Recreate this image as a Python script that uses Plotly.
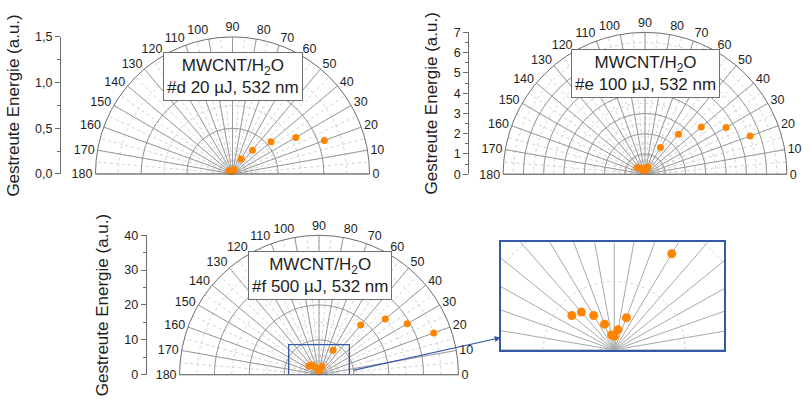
import numpy as np
import plotly.graph_objects as go

W, H = 812, 401

# ---------------- data ----------------
angles = [20, 30, 40, 50, 60, 70, 80, 90, 100, 110, 120, 130, 140]
r_d = [1.07, 0.80, 0.55, 0.34, 0.19, 0.05, 0.03, 0.03, 0.03, 0.03, 0.04, 0.04, 0.05]
r_e = [5.52, 4.62, 3.63, 2.57, 1.53, 0.40, 0.22, 0.15, 0.15, 0.20, 0.30, 0.42, 0.50]
r_f = [35.0, 29.2, 24.8, 18.6, 8.1, 2.5, 1.5, 1.0, 1.1, 2.0, 2.9, 3.6, 3.9]

theta_ticks = list(range(0, 181, 10))
theta_labels = [str(v) for v in theta_ticks]

labels_d = ["MWCNT/H<sub>2</sub>O", "#d 20 µJ, 532 nm"]
labels_e = ["MWCNT/H<sub>2</sub>O", "#e 100 µJ, 532 nm"]
labels_f = ["MWCNT/H<sub>2</sub>O", "#f 500 µJ, 532 nm"]
ytitle = "Gestreute Energie (a.u.)"

# zoom window (data units of panel f)
win_x = [-8.7, 8.7]
win_y = [0.0, 8.6]
inset_x = [-8.0, 7.75]
inset_y = [0.0, 7.84]

# ---------------- styles ----------------
FONT = "Liberation Sans, Arial, sans-serif"
ORANGE = "#ff8400"
GRID = "#9a9a9a"
FINE = "#d2d2d2"
OUTLINE = "#6e6e6e"
BLUE = "#3658a8"
TXT = "#1e1e1e"


def px(x):
    return x / W


def py(y):
    return 1 - y / H


# panel geometry (pixels): centre x, centre y, radius
geo = {
    "d": dict(cx=232.5, cy=173.0, R=142.0, rmax=1.5, rd=0.5, axis_x=60.0, fmt=".1f", minor=0.25),
    "e": dict(cx=645.0, cy=173.3, R=147.0, rmax=7.0, rd=1.0, axis_x=468.3, fmt="d", minor=0.5),
    "f": dict(cx=319.0, cy=381.0, R=144.5, rmax=40.0, rd=10.0, axis_x=145.7, fmt="d", minor=5.0),
}

fig = go.Figure()
layout = dict(
    width=W, height=H, margin=dict(l=0, r=0, t=0, b=0),
    paper_bgcolor="white", plot_bgcolor="rgba(0,0,0,0)",
    separators=", ", showlegend=False,
    font=dict(family=FONT, color=TXT),
)

annotations = []
pidx = 1
for k, (key, g) in enumerate(geo.items()):
    dx = [px(g["cx"] - g["R"]), px(g["cx"] + g["R"])]
    dy = [py(g["cy"]), py(g["cy"] - g["R"])]
    fine_name = "polar" if pidx == 1 else f"polar{pidx}"
    main_name = f"polar{pidx + 1}"
    layout[fine_name] = dict(
        domain=dict(x=dx, y=dy), sector=[0, 180], bgcolor="white",
        radialaxis=dict(range=[0, g["rmax"]], tickmode="linear", tick0=0, dtick=g["rd"] / 2,
                        showticklabels=False, ticks="", showline=False,
                        gridcolor=FINE, griddash="dot", gridwidth=1),
        angularaxis=dict(direction="counterclockwise", rotation=0, tickmode="linear", tick0=0,
                         dtick=5, showticklabels=False, ticks="", showline=False,
                         gridcolor=FINE, griddash="dot", gridwidth=1),
    )
    layout[main_name] = dict(
        domain=dict(x=dx, y=dy), sector=[0, 180], bgcolor="rgba(0,0,0,0)",
        radialaxis=dict(range=[0, g["rmax"]], tickmode="linear", tick0=0, dtick=g["rd"],
                        showticklabels=False, ticks="", showline=False,
                        gridcolor=GRID, gridwidth=1),
        angularaxis=dict(direction="counterclockwise", rotation=0, tickmode="array",
                         tickvals=theta_ticks, ticktext=theta_labels,
                         ticks="", showline=True, linecolor=OUTLINE, linewidth=1,
                         gridcolor=GRID, gridwidth=1,
                         tickfont=dict(size=12.5, family=FONT, color=TXT)),
    )
    fig.add_trace(go.Scatterpolar(r=[0], theta=[0], mode="lines", subplot=fine_name,
                                  line=dict(color="rgba(0,0,0,0)"), hoverinfo="skip"))
    rvals = {"d": r_d, "e": r_e, "f": r_f}[key]
    fig.add_trace(go.Scatterpolar(r=rvals, theta=angles, mode="markers", subplot=main_name,
                                  marker=dict(color=ORANGE, size=7)))
    if key == "f":
        cxs = np.array([win_x[1], win_x[1], win_x[0], win_x[0], win_x[1]])
        cys = np.array([win_y[0], win_y[1], win_y[1], win_y[0], win_y[0]])
        rr = np.hypot(cxs, cys)
        tt = np.degrees(np.arctan2(cys, cxs))
        fig.add_trace(go.Scatterpolar(r=rr, theta=tt, mode="lines", subplot=main_name,
                                      line=dict(color=BLUE, width=1.3), hoverinfo="skip"))
    pidx += 2

    # left linear energy axis
    n = k + 1
    xa = "xaxis" if n == 1 else f"xaxis{n}"
    ya = "yaxis" if n == 1 else f"yaxis{n}"
    xr = "x" if n == 1 else f"x{n}"
    yr = "y" if n == 1 else f"y{n}"
    layout[xa] = dict(domain=[px(g["axis_x"]), px(g["axis_x"] + 5)], range=[0, 1], visible=False,
                      anchor=yr)
    layout[ya] = dict(domain=dy, range=[0, g["rmax"]], anchor="free", position=px(g["axis_x"]),
                      tickmode="linear", tick0=0, dtick=g["rd"], tickformat=g["fmt"],
                      showline=True, linecolor=OUTLINE, linewidth=1, ticks="outside",
                      ticklen=5, tickcolor=OUTLINE, showgrid=False, zeroline=False,
                      minor=dict(dtick=g["minor"], ticks="outside", ticklen=3, tickcolor=OUTLINE),
                      tickfont=dict(size=12.5, family=FONT, color=TXT),
                      title=dict(text=ytitle, font=dict(size=17, family=FONT, color=TXT), standoff=10))
    fig.add_trace(go.Scatter(x=[None], y=[None], xaxis=xr, yaxis=yr, mode="markers"))

    # label box
    lab = {"d": labels_d, "e": labels_e, "f": labels_f}[key]
    annotations.append(dict(
        text="<br>".join(lab), xref="paper", yref="paper",
        x=px(g["cx"] + 0.5), y=py(g["cy"] - 0.71 * g["R"]), xanchor="center", yanchor="middle",
        showarrow=False, bgcolor="white", bordercolor=OUTLINE, borderwidth=1, borderpad=3,
        font=dict(size=17, family=FONT, color=TXT), align="center"))

# ---------------- inset (zoom of panel f) ----------------
ix0, ix1, iy0, iy1 = 500.7, 724.3, 244.0, 355.3
layout["xaxis4"] = dict(domain=[px(ix0), px(ix1)], range=inset_x, anchor="y4",
                        showline=True, mirror=True, linecolor=BLUE, linewidth=1.5,
                        showgrid=False, zeroline=False, showticklabels=False, ticks="")
layout["yaxis4"] = dict(domain=[py(iy1), py(iy0)], range=inset_y, anchor="x4",
                        showline=True, mirror=True, linecolor=BLUE, linewidth=1.5,
                        showgrid=False, zeroline=False, showticklabels=False, ticks="")

spoke_angles = np.arange(0, 181, 10)
sx, sy = [], []
for a in spoke_angles:
    sx += [0, 30 * np.cos(np.radians(a)), None]
    sy += [0, 30 * np.sin(np.radians(a)), None]
fig.add_trace(go.Scatter(x=sx, y=sy, xaxis="x4", yaxis="y4", mode="lines",
                         line=dict(color="#a8a8a8", width=1), hoverinfo="skip"))
th = np.radians(np.linspace(0, 180, 181))
for rad in (5, 10):
    fig.add_trace(go.Scatter(x=rad * np.cos(th), y=rad * np.sin(th), xaxis="x4", yaxis="y4",
                             mode="lines", line=dict(color=FINE, width=1, dash="dot"),
                             hoverinfo="skip"))
ang = np.radians(angles)
fig.add_trace(go.Scatter(x=np.array(r_f) * np.cos(ang), y=np.array(r_f) * np.sin(ang),
                         xaxis="x4", yaxis="y4", mode="markers",
                         marker=dict(color=ORANGE, size=9)))

# arrow from zoom window to inset
annotations.append(dict(
    xref="x4", yref="y4", x=inset_x[0], y=0.89, ax=-149, ay=33, axref="pixel", ayref="pixel",
    showarrow=True, arrowhead=2, arrowsize=1, arrowwidth=1.2, arrowcolor=BLUE, text="",
    standoff=0, startstandoff=0))

layout["annotations"] = annotations
fig.update_layout(**layout)
fig.write_html("out.html")
